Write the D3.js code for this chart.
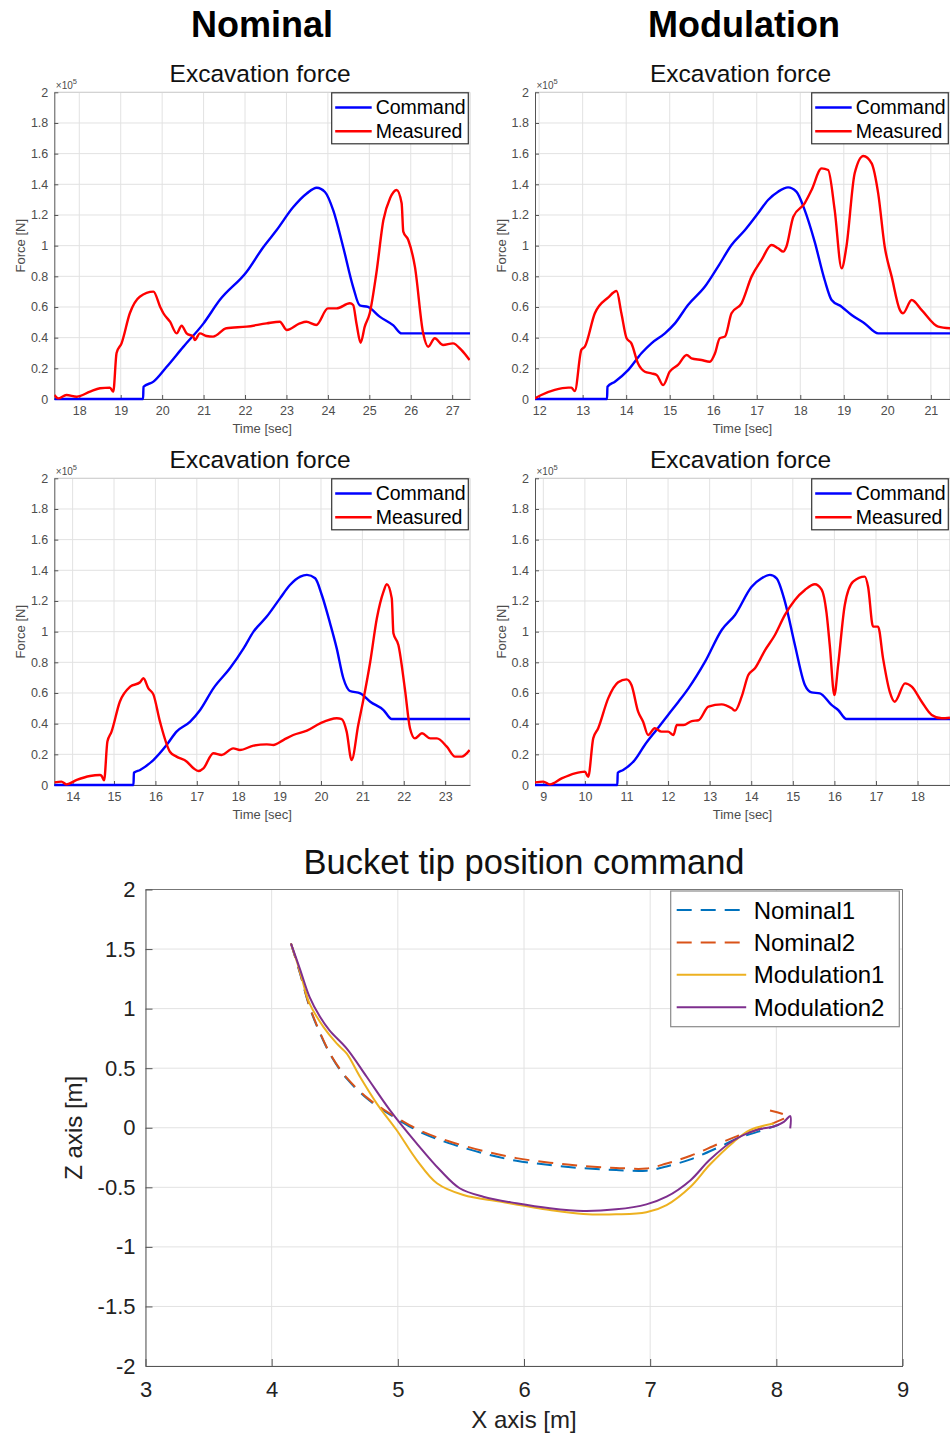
<!DOCTYPE html>
<html>
<head>
<meta charset="utf-8">
<script src="https://cdn.jsdelivr.net/npm/d3@7"></script>
<style>
  html, body { margin: 0; padding: 0; background: #ffffff; }
  svg { display: block; }
  text { font-family: 'Liberation Sans', Arial, sans-serif; }
</style>
</head>
<body>
<svg id="fig" width="950" height="1438"></svg>
<script>
// ---------------------------------------------------------------
// Excavation force: [time s, force ×1e5 N]
// ---------------------------------------------------------------
const nominal1Command = [
  [17.40,0],[19.54,0],[19.55,0.08],[19.79,0.113],[20.11,0.21],[20.51,0.34],[20.99,0.49],
  [21.39,0.645],[22.04,0.83],[22.44,0.99],[22.76,1.10],[23.16,1.25],[23.49,1.34],[23.73,1.378],
  [23.93,1.35],[24.13,1.23],[24.37,0.99],[24.61,0.73],[24.77,0.61],[24.97,0.60],[25.25,0.537],
  [25.58,0.48],[25.78,0.428],[27.45,0.428]
];
const nominal1Measured = [
  [17.40,0.026],[17.49,0.004],[17.69,0.026],[17.94,0.015],[18.26,0.048],[18.50,0.07],[18.74,0.074],
  [18.82,0.048],[18.90,0.30],[19.02,0.363],[19.22,0.559],[19.46,0.667],[19.79,0.70],[19.95,0.602],
  [20.03,0.559],[20.19,0.504],[20.35,0.428],[20.47,0.478],[20.59,0.428],[20.75,0.407],[20.79,0.385],
  [20.91,0.428],[21.07,0.411],[21.23,0.407],[21.55,0.461],[22.04,0.472],[22.52,0.493],[22.84,0.504],
  [23.01,0.45],[23.32,0.493],[23.48,0.504],[23.72,0.483],[24.00,0.591],[24.21,0.591],[24.53,0.624],
  [24.61,0.613],[24.69,0.493],[24.79,0.367],[24.89,0.472],[25.01,0.559],[25.17,0.82],[25.34,1.167],
  [25.50,1.309],[25.66,1.363],[25.78,1.276],[25.82,1.091],[25.94,1.037],[26.10,0.863],[26.30,0.428],
  [26.42,0.341],[26.58,0.396],[26.78,0.352],[27.02,0.363],[27.22,0.32],[27.42,0.254]
];
const modulation1Command = [
  [11.90,0],[13.56,0],[13.57,0.08],[13.74,0.113],[14.05,0.19],[14.35,0.298],[14.58,0.363],
  [14.89,0.428],[15.12,0.493],[15.42,0.613],[15.81,0.733],[16.11,0.863],[16.42,1.004],[16.73,1.102],
  [17.03,1.211],[17.26,1.298],[17.49,1.352],[17.72,1.38],[17.91,1.352],[18.10,1.233],[18.33,1.026],
  [18.56,0.776],[18.72,0.646],[18.95,0.602],[19.18,0.548],[19.48,0.493],[19.79,0.428],[21.50,0.428]
];
const modulation1Measured = [
  [11.90,0.004],[12.05,0.026],[12.36,0.059],[12.67,0.074],[12.74,0.074],[12.82,0.052],[12.97,0.32],
  [13.05,0.341],[13.28,0.559],[13.59,0.663],[13.78,0.704],[13.89,0.559],[14.01,0.396],[14.12,0.363],
  [14.27,0.233],[14.43,0.178],[14.58,0.167],[14.70,0.157],[14.85,0.091],[15.00,0.178],[15.19,0.222],
  [15.39,0.287],[15.50,0.265],[15.73,0.254],[15.92,0.243],[16.04,0.298],[16.15,0.396],[16.27,0.407],
  [16.42,0.559],[16.65,0.624],[16.88,0.798],[17.11,0.907],[17.34,1.004],[17.49,0.983],[17.61,0.961],
  [17.68,0.993],[17.84,1.189],[18.10,1.276],[18.26,1.363],[18.49,1.504],[18.64,1.493],[18.79,1.233],
  [18.95,0.852],[19.06,0.993],[19.25,1.472],[19.45,1.585],[19.64,1.537],[19.79,1.341],[19.94,0.993],
  [20.10,0.798],[20.29,0.580],[20.36,0.559],[20.56,0.646],[20.79,0.580],[21.17,0.472],[21.45,0.461]
];
const nominal2Command = [
  [13.55,0],[15.47,0],[15.48,0.08],[15.63,0.098],[15.95,0.163],[16.27,0.261],[16.51,0.348],
  [16.84,0.413],[17.08,0.489],[17.40,0.63],[17.80,0.761],[18.13,0.891],[18.37,1.00],[18.69,1.098],
  [19.01,1.217],[19.25,1.304],[19.50,1.359],[19.66,1.37],[19.86,1.348],[20.02,1.239],[20.22,1.054],
  [20.38,0.891],[20.54,0.696],[20.70,0.613],[20.95,0.598],[21.19,0.543],[21.51,0.489],[21.71,0.43],
  [23.62,0.43]
];
const nominal2Measured = [
  [13.56,0.017],[13.73,0.022],[13.85,0.004],[14.10,0.033],[14.42,0.059],[14.66,0.065],[14.70,0.059],
  [14.76,0.03],[14.84,0.283],[14.94,0.348],[15.14,0.543],[15.39,0.641],[15.63,0.67],[15.71,0.696],
  [15.83,0.63],[15.95,0.591],[16.11,0.413],[16.35,0.217],[16.51,0.185],[16.76,0.152],[16.92,0.109],
  [17.04,0.091],[17.16,0.109],[17.40,0.207],[17.60,0.196],[17.88,0.239],[18.04,0.228],[18.37,0.257],
  [18.69,0.265],[18.85,0.261],[19.09,0.293],[19.33,0.326],[19.66,0.354],[19.98,0.402],[20.38,0.435],
  [20.50,0.43],[20.62,0.348],[20.74,0.163],[20.90,0.391],[21.03,0.565],[21.19,0.804],[21.35,1.087],
  [21.51,1.261],[21.59,1.309],[21.71,1.217],[21.75,0.989],[21.87,0.913],[22.03,0.62],[22.15,0.37],
  [22.27,0.304],[22.44,0.337],[22.64,0.304],[22.80,0.304],[23.04,0.25],[23.24,0.185],[23.40,0.185],
  [23.59,0.228]
];
const modulation2Command = [
  [8.80,0],[10.78,0],[10.79,0.08],[10.92,0.098],[11.20,0.163],[11.44,0.261],[11.72,0.359],
  [12.00,0.457],[12.25,0.543],[12.49,0.63],[12.89,0.804],[13.29,1.011],[13.61,1.109],[14.01,1.293],
  [14.25,1.348],[14.45,1.37],[14.61,1.348],[14.81,1.196],[15.05,0.913],[15.29,0.652],[15.45,0.604],
  [15.65,0.598],[15.93,0.522],[16.09,0.489],[16.29,0.43],[18.80,0.43]
];
const modulation2Measured = [
  [8.80,0.017],[9.00,0.022],[9.16,0.004],[9.44,0.043],[9.76,0.076],[10.00,0.087],[10.08,0.054],
  [10.20,0.304],[10.32,0.37],[10.56,0.565],[10.80,0.67],[11.00,0.689],[11.12,0.652],[11.28,0.478],
  [11.40,0.413],[11.52,0.326],[11.68,0.37],[11.84,0.348],[12.00,0.348],[12.13,0.326],[12.21,0.391],
  [12.37,0.391],[12.57,0.417],[12.73,0.422],[12.97,0.511],[13.29,0.526],[13.53,0.50],[13.61,0.485],
  [13.77,0.576],[13.93,0.717],[14.09,0.761],[14.33,0.878],[14.57,0.978],[14.81,1.109],[15.05,1.207],
  [15.29,1.272],[15.53,1.309],[15.69,1.276],[15.81,1.124],[15.89,0.907],[16.00,0.587],[16.09,0.783],
  [16.25,1.174],[16.45,1.326],[16.73,1.359],[16.81,1.293],[16.93,1.033],[17.05,1.033],[17.17,0.826],
  [17.33,0.609],[17.45,0.543],[17.70,0.663],[17.86,0.641],[18.10,0.543],[18.34,0.457],[18.58,0.435],
  [18.78,0.439]
];

const forceTickValues = [0,0.2,0.4,0.6,0.8,1,1.2,1.4,1.6,1.8,2];
const forceTickLabels = ["0","0.2","0.4","0.6","0.8","1","1.2","1.4","1.6","1.8","2"];
const forceSeriesNames = ["Command","Measured"];
const forceSeriesColors = ["#0000ff","#ff0000"];

// ---------------------------------------------------------------
// Bucket tip path: [X m, Z m]
// ---------------------------------------------------------------
const pathNominal1 = [
  [4.153,1.547],[4.225,1.295],[4.30,1.015],[4.383,0.792],[4.475,0.596],[4.594,0.414],[4.753,0.247],
  [4.884,0.148],[5.03,0.05],[5.20,-0.047],[5.41,-0.131],[5.68,-0.215],[5.94,-0.277],[6.205,-0.313],
  [6.47,-0.34],[6.73,-0.355],[6.97,-0.36],[7.13,-0.325],[7.32,-0.265],[7.53,-0.17],[7.69,-0.09],
  [7.85,-0.035],[8.02,0.025]
];
const pathNominal2 = [
  [4.153,1.547],[4.225,1.30],[4.30,1.02],[4.383,0.80],[4.475,0.60],[4.594,0.42],[4.753,0.255],
  [4.884,0.155],[5.03,0.06],[5.20,-0.035],[5.41,-0.115],[5.68,-0.195],[5.94,-0.255],[6.205,-0.293],
  [6.47,-0.322],[6.73,-0.337],[6.97,-0.342],[7.13,-0.30],[7.32,-0.235],[7.53,-0.14],[7.69,-0.07],
  [7.85,-0.015],[8.00,0.05],[8.085,0.095],[7.95,0.145]
];
const pathModulation1 = [
  [4.153,1.547],[4.225,1.31],[4.30,1.044],[4.41,0.847],[4.515,0.708],[4.594,0.624],[4.70,0.428],
  [4.832,0.205],[4.99,-0.019],[5.15,-0.271],[5.31,-0.466],[5.52,-0.565],[5.81,-0.62],[6.205,-0.69],
  [6.47,-0.724],[6.73,-0.727],[6.97,-0.71],[7.13,-0.649],[7.32,-0.495],[7.47,-0.313],[7.66,-0.121],
  [7.79,-0.02],[7.98,0.035]
];
const pathModulation2 = [
  [4.153,1.547],[4.225,1.33],[4.30,1.099],[4.383,0.931],[4.46,0.815],[4.594,0.666],[4.753,0.428],
  [4.937,0.148],[5.149,-0.131],[5.334,-0.355],[5.49,-0.508],[5.677,-0.579],[5.94,-0.634],[6.205,-0.676],
  [6.47,-0.699],[6.73,-0.685],[6.97,-0.643],[7.13,-0.579],[7.32,-0.44],[7.47,-0.271],[7.66,-0.107],
  [7.84,-0.02],[7.98,0.011],[8.06,0.05],[8.11,0.098],[8.11,-0.005]
];
const pathNames = ["Nominal1","Nominal2","Modulation1","Modulation2"];
const pathColors = ["#0072bd","#d95319","#edb120","#7e2f8e"];
const pathDashed = [true,true,false,false];
const xTickValues = [3,4,5,6,7,8,9];
const zTickValues = [-2,-1.5,-1,-0.5,0,0.5,1,1.5,2];
const zTickLabels = ["-2","-1.5","-1","-0.5","0","0.5","1","1.5","2"];

// ---------------------------------------------------------------
const svg = d3.select("#fig");
const gridColor = "#e2e2e2";

// Column headings
svg.append("text").attr("x", 262).attr("y", 37).attr("text-anchor", "middle")
  .attr("font-size", 36).attr("font-weight", "bold").attr("fill", "#000").text("Nominal");
svg.append("text").attr("x", 744).attr("y", 37).attr("text-anchor", "middle")
  .attr("font-size", 36).attr("font-weight", "bold").attr("fill", "#000").text("Modulation");

// Force subplots
const panels = [
  { cmd: nominal1Command,    meas: nominal1Measured,    domain: [17.397, 27.43], left: 54.3, right: 470, top: 92.3,  bottom: 399 },
  { cmd: modulation1Command, meas: modulation1Measured, domain: [11.905, 21.44], left: 535,  right: 950, top: 92.3,  bottom: 399 },
  { cmd: nominal2Command,    meas: nominal2Measured,    domain: [13.557, 23.6],  left: 54.3, right: 470, top: 478.3, bottom: 785 },
  { cmd: modulation2Command, meas: modulation2Measured, domain: [8.80, 18.78],   left: 535,  right: 950, top: 478.3, bottom: 785 }
];

panels.forEach((p, i) => {
  const x = d3.scaleLinear().domain(p.domain).range([p.left, p.right]);
  const y = d3.scaleLinear().domain([0, 2]).range([p.bottom, p.top]);
  const g = svg.append("g");
  const xTicks = d3.range(Math.ceil(p.domain[0]), Math.floor(p.domain[1]) + 1);

  // grid
  g.append("g").selectAll("line").data(xTicks).join("line")
    .attr("x1", d => x(d)).attr("x2", d => x(d)).attr("y1", p.top).attr("y2", p.bottom)
    .attr("stroke", gridColor).attr("stroke-width", 1);
  g.append("g").selectAll("line").data(forceTickValues).join("line")
    .attr("x1", p.left).attr("x2", p.right).attr("y1", d => y(d)).attr("y2", d => y(d))
    .attr("stroke", gridColor).attr("stroke-width", 1);

  // light frame on top/right
  g.append("path").attr("d", `M${p.left},${p.top}H${p.right}V${p.bottom}`)
    .attr("fill", "none").attr("stroke", "#cfcfcf").attr("stroke-width", 1);

  // axes
  const ax = g.append("g").attr("transform", `translate(0,${p.bottom})`)
    .call(d3.axisBottom(x).tickValues(xTicks).tickFormat(d3.format("d"))
      .tickSizeInner(-4).tickSizeOuter(0).tickPadding(7));
  const ay = g.append("g").attr("transform", `translate(${p.left},0)`)
    .call(d3.axisLeft(y).tickValues(forceTickValues).tickFormat((d, k) => forceTickLabels[k])
      .tickSizeInner(-4).tickSizeOuter(0).tickPadding(6));
  [ax, ay].forEach(a => {
    a.select(".domain").attr("stroke", "#555").attr("stroke-width", 1);
    a.selectAll(".tick line").attr("stroke", "#555");
    a.selectAll(".tick text").attr("fill", "#4d4d4d").attr("font-size", 12.5)
      .attr("font-family", "'Liberation Sans', Arial, sans-serif");
  });

  // exponent marker
  const ex = g.append("text").attr("x", p.left + 1.5).attr("y", p.top - 3.5)
    .attr("font-size", 10).attr("fill", "#4d4d4d");
  ex.append("tspan").text("×10");
  ex.append("tspan").attr("font-size", 7.5).attr("dy", -5).text("5");

  // title and labels
  g.append("text").attr("x", (p.left + p.right) / 2 - 2).attr("y", p.top - 10)
    .attr("text-anchor", "middle").attr("font-size", 24.5).attr("fill", "#111").text("Excavation force");
  g.append("text").attr("x", (p.left + p.right) / 2).attr("y", p.bottom + 33.5)
    .attr("text-anchor", "middle").attr("font-size", 13).attr("fill", "#4d4d4d").text("Time [sec]");
  g.append("text").attr("transform", `translate(${p.left - 29.5},${(p.top + p.bottom) / 2}) rotate(-90)`)
    .attr("text-anchor", "middle").attr("font-size", 13).attr("fill", "#4d4d4d").text("Force [N]");

  // curves
  const clipId = "clip" + i;
  g.append("clipPath").attr("id", clipId).append("rect")
    .attr("x", p.left).attr("y", p.top - 2).attr("width", p.right - p.left).attr("height", p.bottom - p.top + 4);
  const line = d3.line().x(d => x(d[0])).y(d => y(d[1])).curve(d3.curveMonotoneX);
  [p.cmd, p.meas].forEach((series, k) => {
    g.append("path").datum(series).attr("clip-path", `url(#${clipId})`)
      .attr("d", line).attr("fill", "none").attr("stroke", forceSeriesColors[k])
      .attr("stroke-width", 2.4).attr("stroke-linejoin", "round");
  });

  // legend
  const lx = p.right - 138.3, ly = p.top + 0.5;
  const lg = g.append("g");
  lg.append("rect").attr("x", lx).attr("y", ly).attr("width", 136.6).attr("height", 51)
    .attr("fill", "#fff").attr("stroke", "#333").attr("stroke-width", 1.2);
  forceSeriesNames.forEach((name, k) => {
    const yy = ly + 14.7 + k * 23.7;
    lg.append("line").attr("x1", lx + 3.5).attr("x2", lx + 40).attr("y1", yy).attr("y2", yy)
      .attr("stroke", forceSeriesColors[k]).attr("stroke-width", 2.4);
    lg.append("text").attr("x", lx + 44).attr("y", yy + 6.8).attr("font-size", 19.5)
      .attr("fill", "#000").text(name);
  });
});

// ---------------------------------------------------------------
// Bucket tip position command
// ---------------------------------------------------------------
(function () {
  const L = 145.5, R = 902.5, T = 889.5, B = 1366;
  const x = d3.scaleLinear().domain([3, 9]).range([L, R]);
  const y = d3.scaleLinear().domain([-2, 2]).range([B, T]);
  const g = svg.append("g");

  g.append("g").selectAll("line").data(xTickValues).join("line")
    .attr("x1", d => x(d)).attr("x2", d => x(d)).attr("y1", T).attr("y2", B)
    .attr("stroke", gridColor);
  g.append("g").selectAll("line").data(zTickValues).join("line")
    .attr("x1", L).attr("x2", R).attr("y1", d => y(d)).attr("y2", d => y(d))
    .attr("stroke", gridColor);

  g.append("path").attr("d", `M${L},${T}H${R}V${B}`).attr("fill", "none")
    .attr("stroke", "#777").attr("stroke-width", 1);

  const ax = g.append("g").attr("transform", `translate(0,${B})`)
    .call(d3.axisBottom(x).tickValues(xTickValues).tickFormat(d3.format("d"))
      .tickSizeInner(-7).tickSizeOuter(0).tickPadding(15));
  const ay = g.append("g").attr("transform", `translate(${L},0)`)
    .call(d3.axisLeft(y).tickValues(zTickValues).tickFormat((d, k) => zTickLabels[k])
      .tickSizeInner(-7).tickSizeOuter(0).tickPadding(10));
  [ax, ay].forEach(a => {
    a.select(".domain").attr("stroke", "#555");
    a.selectAll(".tick line").attr("stroke", "#555");
    a.selectAll(".tick text").attr("fill", "#222").attr("font-size", 22)
      .attr("font-family", "'Liberation Sans', Arial, sans-serif");
  });

  g.append("text").attr("x", (L + R) / 2).attr("y", 874).attr("text-anchor", "middle")
    .attr("font-size", 34.5).attr("fill", "#111").text("Bucket tip position command");
  g.append("text").attr("x", (L + R) / 2).attr("y", 1428).attr("text-anchor", "middle")
    .attr("font-size", 24).attr("fill", "#222").text("X axis [m]");
  g.append("text").attr("transform", `translate(82,${(T + B) / 2}) rotate(-90)`)
    .attr("text-anchor", "middle").attr("font-size", 24).attr("fill", "#222").text("Z axis [m]");

  const line = d3.line().x(d => x(d[0])).y(d => y(d[1])).curve(d3.curveCatmullRom.alpha(0.5));
  [pathNominal1, pathNominal2, pathModulation1, pathModulation2].forEach((s, k) => {
    g.append("path").datum(s).attr("d", line).attr("fill", "none")
      .attr("stroke", pathColors[k]).attr("stroke-width", 2)
      .attr("stroke-dasharray", pathDashed[k] ? "15 9" : null);
  });

  // legend
  const lx = 670.7, ly = 891;
  const lg = g.append("g");
  lg.append("rect").attr("x", lx).attr("y", ly).attr("width", 228.6).attr("height", 135.7)
    .attr("fill", "#fff").attr("stroke", "#8a8a8a").attr("stroke-width", 1.2);
  pathNames.forEach((name, k) => {
    const yy = ly + 19 + k * 32.4;
    lg.append("line").attr("x1", lx + 6).attr("x2", lx + 75.5).attr("y1", yy).attr("y2", yy)
      .attr("stroke", pathColors[k]).attr("stroke-width", 2)
      .attr("stroke-dasharray", pathDashed[k] ? "15 9" : null);
    lg.append("text").attr("x", lx + 83).attr("y", yy + 8.5).attr("font-size", 24)
      .attr("fill", "#000").text(name);
  });
})();
</script>
</body>
</html>
